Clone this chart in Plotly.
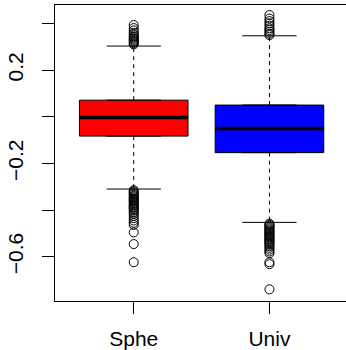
import plotly.graph_objects as go

categories = ["Sphe", "Univ"]
positions = [1, 2]
colors = ["#FF0000", "#0000FF"]

q1 = [-0.083, -0.154]
median = [-0.003, -0.050]
q3 = [0.071, 0.050]
lower_whisker = [-0.310, -0.453]
upper_whisker = [0.303, 0.347]

outliers = [
    [0.310, 0.315, 0.320, 0.325, 0.330, 0.335, 0.340, 0.345, 0.352, 0.360, 0.370, 0.380, 0.393,
     -0.315, -0.320, -0.325, -0.330, -0.335, -0.340, -0.345, -0.350, -0.355, -0.360, -0.365,
     -0.370, -0.375, -0.380, -0.385, -0.390, -0.395, -0.400, -0.408, -0.415, -0.425, -0.435,
     -0.445, -0.455, -0.464, -0.496, -0.546, -0.624],
    [0.350, 0.356, 0.364, 0.372, 0.379, 0.390, 0.400, 0.410, 0.421, 0.436,
     -0.458, -0.463, -0.468, -0.473, -0.478, -0.483, -0.488, -0.493, -0.498, -0.503, -0.508,
     -0.513, -0.518, -0.523, -0.528, -0.533, -0.538, -0.543, -0.548, -0.555, -0.562, -0.570,
     -0.578, -0.585, -0.624, -0.632, -0.740],
]

ytick_vals = [-0.6, -0.4, -0.2, 0.0, 0.2, 0.4]
ytick_text = ["\u22120.6", "", "\u22120.2", "", "0.2", ""]

BOX_HALF = 0.4
CAP_HALF = 0.2

fig = go.Figure()

for i, cat in enumerate(categories):
    p = positions[i]
    # dashed whiskers
    fig.add_trace(go.Scatter(x=[p, p], y=[q3[i], upper_whisker[i]], mode="lines",
                             line=dict(color="black", width=1, dash="4px,4px"),
                             showlegend=False, hoverinfo="skip"))
    fig.add_trace(go.Scatter(x=[p, p], y=[q1[i], lower_whisker[i]], mode="lines",
                             line=dict(color="black", width=1, dash="4px,4px"),
                             showlegend=False, hoverinfo="skip"))
    # caps
    fig.add_trace(go.Scatter(x=[p - CAP_HALF, p + CAP_HALF], y=[upper_whisker[i]] * 2, mode="lines",
                             line=dict(color="black", width=1), showlegend=False, hoverinfo="skip"))
    fig.add_trace(go.Scatter(x=[p - CAP_HALF, p + CAP_HALF], y=[lower_whisker[i]] * 2, mode="lines",
                             line=dict(color="black", width=1), showlegend=False, hoverinfo="skip"))
    # box
    fig.add_trace(go.Box(x=[p], q1=[q1[i]], median=[median[i]], q3=[q3[i]],
                         lowerfence=[q1[i]], upperfence=[q3[i]], width=2 * BOX_HALF,
                         fillcolor=colors[i], line=dict(color="black", width=1),
                         boxpoints=False, showlegend=False, name=cat))
    # thick median
    fig.add_trace(go.Scatter(x=[p - BOX_HALF, p + BOX_HALF], y=[median[i]] * 2, mode="lines",
                             line=dict(color="black", width=3.5), showlegend=False, hoverinfo="skip"))
    # outliers
    fig.add_trace(go.Scatter(x=[p] * len(outliers[i]), y=outliers[i], mode="markers",
                             marker=dict(symbol="circle-open", size=9, color="black",
                                         line=dict(width=1, color="black")),
                             showlegend=False, hoverinfo="skip"))

fig.update_layout(
    width=346, height=350,
    margin=dict(l=55, r=0, t=5, b=49),
    plot_bgcolor="white", paper_bgcolor="white",
    font=dict(family="Liberation Sans, Arial, sans-serif", size=21, color="black"),
)
fig.update_xaxes(range=[0.42, 2.564], tickmode="array", tickvals=positions, ticktext=categories,
                 ticks="outside", ticklen=12, tickwidth=1, tickcolor="black",
                 ticklabelstandoff=7, automargin=False,
                 showline=True, linecolor="black", linewidth=1, mirror=True,
                 showgrid=False, zeroline=False)
fig.update_yaxes(range=[-0.79, 0.479], tickmode="array", tickvals=ytick_vals, ticktext=ytick_text,
                 tickangle=-90, ticks="outside", ticklen=12, tickwidth=1, tickcolor="black",
                 ticklabelstandoff=11, automargin=False,
                 showline=True, linecolor="black", linewidth=1, mirror=False,
                 showgrid=False, zeroline=False)

fig.write_html("out.html")
